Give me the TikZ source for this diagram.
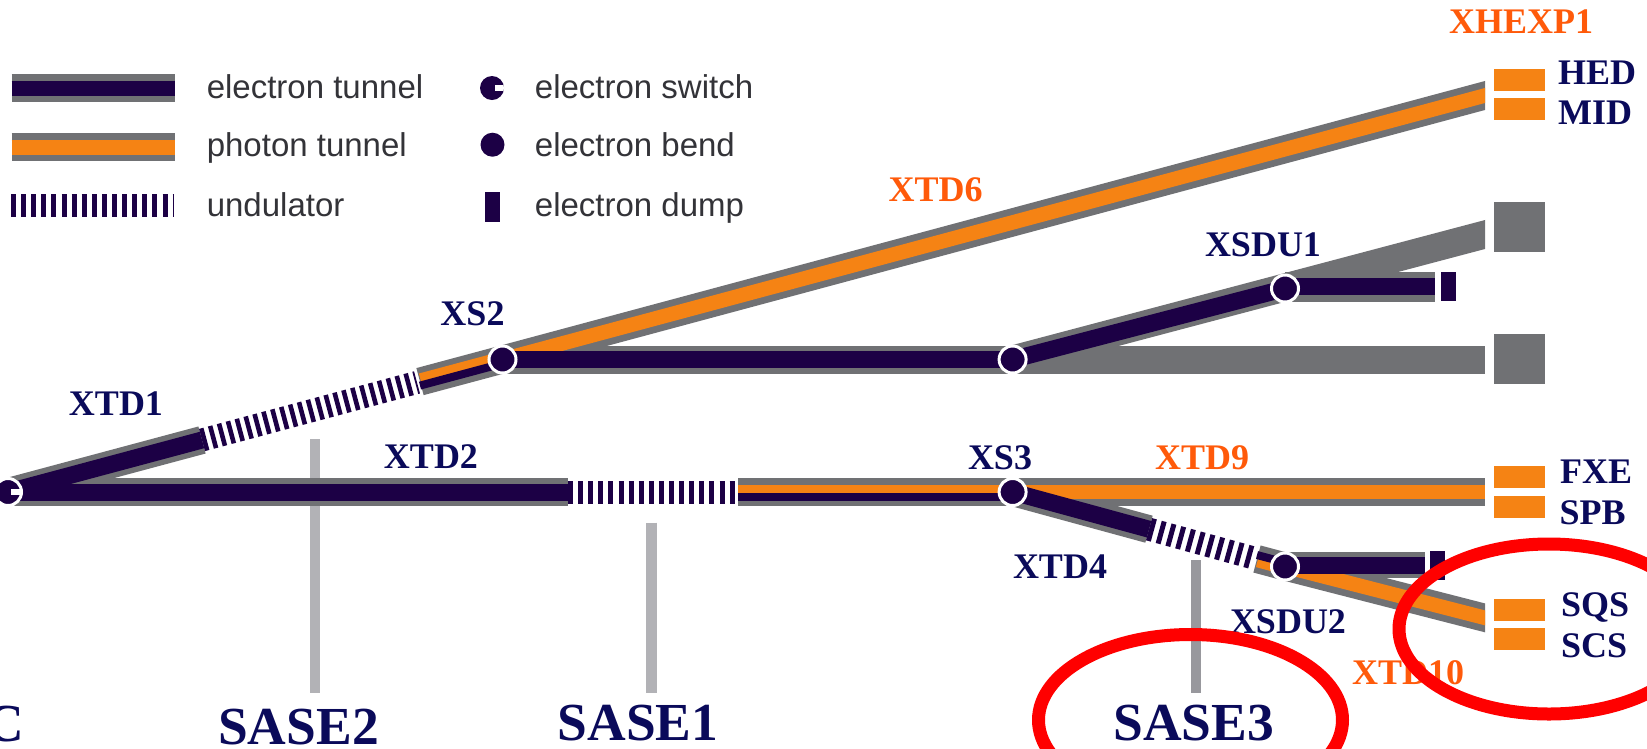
\documentclass[tikz,border=0pt]{standalone}
\usepackage{fontspec}
\setmainfont{Liberation Serif}
\newfontfamily\legfont{Liberation Sans}
\definecolor{navy}{HTML}{1C0045}
\definecolor{orng}{HTML}{F58314}
\definecolor{tung}{HTML}{707174}
\definecolor{txtnavy}{HTML}{0A0A5A}
\definecolor{txtorng}{HTML}{FF5A0A}
\definecolor{stem}{HTML}{B2B2B6}
\definecolor{stemd}{HTML}{98989D}
\definecolor{legtxt}{HTML}{333338}
\pgfdeclarelayer{tun}
\pgfsetlayers{tun,main}
\tikzset{
  tgrey/.style={draw=tung,line width=28pt},
  tgreyw/.style={draw=tung,line width=30pt},
  tnavy/.style={draw=navy,line width=17pt},
  torng/.style={draw=orng,line width=14.5pt},
  tnavyt/.style={draw=navy,line width=8pt},
  torngt/.style={draw=orng,line width=8.5pt},
  undul/.style={draw=navy,line width=23pt,dash pattern=on 5pt off 5.1pt},
  undulfine/.style={undul,dash pattern=on 4.6pt off 4.6pt},
  stemline/.style={draw=stem,line width=10.5pt},
  bendn/.style={circle,fill=navy,draw=white,line width=3pt,minimum size=27pt,inner sep=0pt},
  bendplain/.style={circle,fill=navy,minimum size=24pt,inner sep=0pt},
  switchnotch/.style={path picture={\fill[white] ([xshift=3pt,yshift=-2.6pt]path picture bounding box.center) rectangle ([xshift=16pt,yshift=2.6pt]path picture bounding box.center);}},
  dumpn/.style={rectangle,fill=navy,minimum width=15pt,minimum height=29.5pt,inner sep=0pt},
  hutch/.style={rectangle,fill=orng,minimum width=50.5pt,minimum height=22pt,inner sep=0pt},
  hutchg/.style={rectangle,fill=tung,minimum width=50.5pt,minimum height=50pt,inner sep=0pt},
  lbl/.style={text=txtnavy,font=\bfseries\fontsize{36}{36}\selectfont,text height=23pt,text depth=0pt,inner sep=0pt},
  lblo/.style={lbl,text=txtorng},
  lblw/.style={lbl,anchor=west},
  sase/.style={text=txtnavy,font=\bfseries\fontsize{53.5}{53.5}\selectfont,text height=35pt,text depth=0pt,inner sep=0pt},
  leg/.style={text=legtxt,font=\legfont\fontsize{33}{33}\selectfont,anchor=base west,inner sep=0pt},
  redring/.style={draw=red,line width=13pt}
}
\begin{document}
\begin{tikzpicture}[x=1pt,y=-1pt]
\useasboundingbox (0,0) rectangle (1647,748);

% junction nodes
\node[bendn,switchnotch] (sw) at (8,492) {};
\node[bendn] (xs2) at (502.5,359.5) {};
\node[bendn] (bnd) at (1012.6,359.5) {};
\node[bendn] (xsdu1) at (1285,288.5) {};
\node[bendn] (xs3) at (1012.6,492) {};
\node[bendn] (xsdu2) at (1285,566.5) {};

% dumps and hutches
\node[dumpn] (dump1) at (1448.7,286.7) {};
\node[dumpn] (dump2) at (1437.2,565.3) {};
\node[hutch] (hed) at (1519.3,79.5) {};
\node[hutch] (mid) at (1519.3,109.2) {};
\node[hutchg] (g1) at (1519.3,226.7) {};
\node[hutchg] (g2) at (1519.3,359.2) {};
\node[hutch] (fxe) at (1519.3,477.2) {};
\node[hutch] (spb) at (1519.3,506.5) {};
\node[hutch] (sqs) at (1519.3,610) {};
\node[hutch] (scs) at (1519.3,639) {};

% free ends (the slanted ones run past the cut at x=1485)
\coordinate (e6) at (1505,90.1);
\coordinate (eg1) at (1505,229.2);
\coordinate (eg2) at (1485,359.5);
\coordinate (e9) at (1485,492);
\coordinate (e10) at (1505,623);
\coordinate (d1) at (1434.6,286.7);
\coordinate (d1s) at (1285,286.7);
\coordinate (d2) at (1424.5,565.3);
\coordinate (d2s) at (1285,565.3);
\coordinate (u1a) at (202,440);
\coordinate (u1b) at (417,382.4);
\coordinate (s1a) at (420,381.6);
\coordinate (u2a) at (568,492);
\coordinate (u2b) at (736,492);
\coordinate (s2a) at (738,492);
\coordinate (u4a) at (1149,529.2);
\coordinate (u4b) at (1253,557.8);
\coordinate (s4a) at (1257,559);
\coordinate (st2a) at (315,439);
\coordinate (st2b) at (315,693);
\coordinate (st1a) at (651.5,522.7);
\coordinate (st1b) at (651.5,693);
\coordinate (st3a) at (1195.8,560);
\coordinate (st3b) at (1195.8,693);

\begin{pgfonlayer}{tun}
  \fill[white] (0,0) rectangle (1647,748);
  % SASE stems
  \draw[stemline] (st2a) -- (st2b);
  \draw[stemline] (st1a) -- (st1b);
  \draw[stemline,draw=stemd] (st3a) -- (st3b);
  \begin{scope}
  \clip (0,0) rectangle (1485,748);
  % grey tunnels
  \draw[tgrey] (sw.center) -- (u1a);
  \draw[tgrey] (s1a) -- (xs2.center);
  \draw[tgrey] (xs2.center) -- (e6);
  \draw[tgrey] (xs2.center) -- (eg2);
  \draw[tgrey] (bnd.center) -- (eg1);
  \draw[tgreyw] (d1s) -- (d1);
  \draw[tgrey] (sw.center) -- (u2a);
  \draw[tgrey] (s2a) -- (xs3.center);
  \draw[tgrey] (xs3.center) -- (e9);
  \draw[tgrey] (xs3.center) -- (u4a);
  \draw[tgrey] (s4a) -- (xsdu2.center);
  \draw[tgrey] (xsdu2.center) -- (e10);
  \draw[tgreyw,line width=26pt] (d2s) -- (d2);
  % photon beams
  \draw[torng] (xs2.center) -- (e6);
  \draw[torng] (xs3.center) -- (e9);
  \draw[torng] (xsdu2.center) -- (e10);
  \end{scope}
  \draw[torngt] ([yshift=4pt]s1a) -- ([yshift=4pt]xs2.center);
  \draw[torngt] ([yshift=3pt]s2a) -- ([yshift=3pt]xs3.center);
  \draw[torngt] ([yshift=-4pt]s4a) -- ([yshift=-4pt]xsdu2.center);
  % electron beams
  \draw[tnavy] (sw.center) -- (u1a);
  \draw[tnavy] (sw.center) -- (u2a);
  \draw[tnavy] (xs2.center) -- (bnd.center);
  \draw[tnavy] (bnd.center) -- (xsdu1.center);
  \draw[tnavy] (d1s) -- (d1);
  \draw[tnavy] (xs3.center) -- (u4a);
  \draw[tnavy] (d2s) -- (d2);
  \draw[tnavyt] ([yshift=-4pt]s1a) -- ([yshift=-4pt]xs2.center);
  \draw[tnavyt] ([yshift=-5pt]s2a) -- ([yshift=-5pt]xs3.center);
  \draw[tnavyt] ([yshift=4pt]s4a) -- ([yshift=4pt]xsdu2.center);
  % undulators
  \draw[undulfine] (u1a) -- (u1b);
  \draw[undul] (u2a) -- (u2b);
  \draw[undul] (u4a) -- (u4b);
\end{pgfonlayer}

% legend
\coordinate (la1) at (11.7,88);
\coordinate (lb1) at (174.5,88);
\coordinate (la2) at (11.7,147);
\coordinate (lb2) at (174.5,147);
\coordinate (la3) at (11,205.3);
\coordinate (lb3) at (174,205.3);
\draw[tgrey] (la1) -- (lb1);
\draw[tnavy,line width=15pt] (la1) -- (lb1);
\draw[tgrey] (la2) -- (lb2);
\draw[torng,line width=15pt] (la2) -- (lb2);
\draw[undul] (la3) -- (lb3);
\node[bendplain,switchnotch] (lsw) at (492,88) {};
\node[bendplain] (lbd) at (492.5,144.7) {};
\node[dumpn] (ldp) at (492.3,207.2) {};
\node[leg] (t1) at (206.6,98) {electron tunnel};
\node[leg] (t2) at (206.6,156.7) {photon tunnel};
\node[leg] (t3) at (206.6,216) {undulator};
\node[leg] (t4) at (534.7,98) {electron switch};
\node[leg] (t5) at (534.7,156.7) {electron bend};
\node[leg] (t6) at (534.7,216) {electron dump};

% labels
\node[lblo] (xhexp) at (1521,21.7) {XHEXP1};
\node[lblw] (thed) at (1558,72.7) {HED};
\node[lblw] (tmid) at (1558,113) {MID};
\node[lblo] (xtd6) at (935.6,190) {XTD6};
\node[lbl] (txsdu1) at (1263,245) {XSDU1};
\node[lbl] (txs2) at (472.5,314) {XS2};
\node[lbl] (xtd1) at (116,404) {XTD1};
\node[lbl] (xtd2) at (431,457.3) {XTD2};
\node[lbl] (txs3) at (1000,458) {XS3};
\node[lblo] (xtd9) at (1202,458) {XTD9};
\node[lbl] (xtd4) at (1060,566.7) {XTD4};
\node[lbl] (txsdu2) at (1288,621.7) {XSDU2};
\node[lblo] (xtd10) at (1408,673) {XTD10};
\node[lblw] (tfxe) at (1560,471.7) {FXE};
\node[lblw] (tspb) at (1559.5,512.7) {SPB};
\node[lblw] (tsqs) at (1561,605) {SQS};
\node[lblw] (tscs) at (1561,646) {SCS};
\node[sase,anchor=east] (tc) at (24,724) {C};
\node[sase] (s2) at (298.5,726.7) {SASE2};
\node[sase] (s1) at (638,722.7) {SASE1};
\node[sase] (s3) at (1193.6,723) {SASE3};

% red rings
\draw[redring] (1549,629) ellipse [x radius=150pt,y radius=85pt];
\draw[redring] (1190.5,720) ellipse [x radius=152pt,y radius=85.5pt];
\end{tikzpicture}
\end{document}
